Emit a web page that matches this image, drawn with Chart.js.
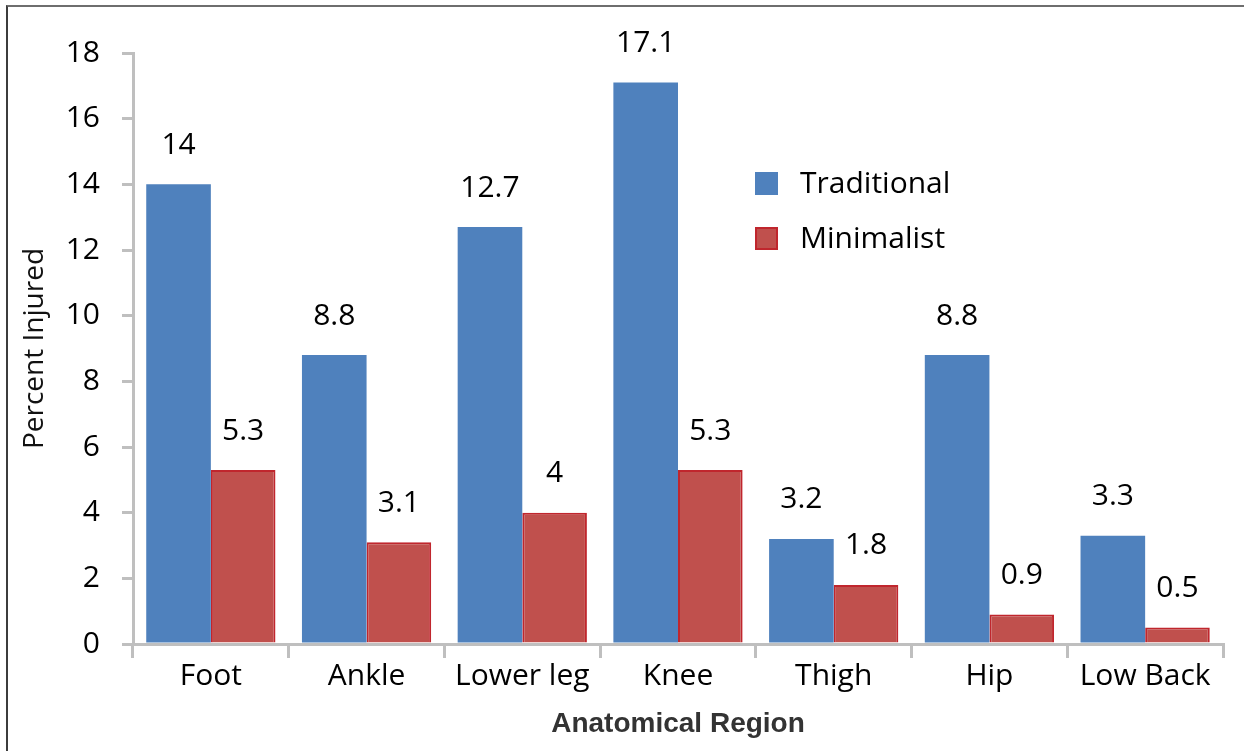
<!DOCTYPE html>
<html>
<head>
<meta charset="utf-8">
<script src="https://cdn.jsdelivr.net/npm/chart.js@4"></script>
<style>
  html, body { margin: 0; padding: 0; background: #fff; }
  #wrap { position: relative; width: 1244px; height: 751px; }
  #frame {
    position: absolute; left: 6px; top: 5px; right: 0; bottom: 0;
    border-top: 2px solid #6e6e6e; border-left: 2px solid #3c3c3c;
  }
  canvas { position: absolute; left: 0; top: 0; }
</style>
</head>
<body>
<div id="wrap">
  <div id="frame"></div>
  <canvas id="chart" width="1244" height="751"></canvas>
</div>
<script>
// data
const regions = ['Foot', 'Ankle', 'Lower leg', 'Knee', 'Thigh', 'Hip', 'Low Back'];
const traditional = [14, 8.8, 12.7, 17.1, 3.2, 8.8, 3.3];
const minimalist = [5.3, 3.1, 4, 5.3, 1.8, 0.9, 0.5];

const BLUE = '#4f81bd';
const RED = '#c0504d';
const RED_EDGE = '#c0262d';
const AXIS = '#bfbfbf';
const FONT = 'Open Sans';
const LABEL_FONT = '30px "Open Sans"';

// value labels above each bar
const valueLabels = {
    id: 'valueLabels',
    afterDatasetsDraw(chart) {
        const ctx = chart.ctx;
        ctx.save();
        ctx.font = LABEL_FONT;
        ctx.fillStyle = '#000';
        ctx.textAlign = 'center';
        ctx.textBaseline = 'middle';
        chart.data.datasets.forEach((ds, i) => {
            chart.getDatasetMeta(i).data.forEach((bar, j) => {
                ctx.fillText(String(ds.data[j]), bar.x, bar.y - 39);
            });
        });
        ctx.restore();
    }
};

// legend sits inside the plot, right of the Knee bar
const innerLegend = {
    id: 'innerLegend',
    afterDraw(chart) {
        const ctx = chart.ctx;
        const x = 755, y0 = 183, gap = 55;
        ctx.save();
        chart.data.datasets.forEach((ds, i) => {
            const y = y0 + i * gap;
            ctx.fillStyle = ds.backgroundColor;
            ctx.fillRect(x, y - 11, 23, 23);
            if (ds.borderWidth) {
                ctx.strokeStyle = ds.borderColor;
                ctx.lineWidth = 2;
                ctx.strokeRect(x + 1, y - 10, 21, 21);
            }
            ctx.fillStyle = '#000';
            ctx.font = LABEL_FONT;
            ctx.textBaseline = 'middle';
            ctx.fillText(ds.label, 800, y + 1);
        });
        ctx.restore();
    }
};

new Chart(document.getElementById('chart'), {
    type: 'bar',
    data: {
        labels: regions,
        datasets: [
            {
                label: 'Traditional',
                data: traditional,
                backgroundColor: BLUE,
                borderWidth: 0,
                categoryPercentage: 0.83,
                barPercentage: 1.0
            },
            {
                label: 'Minimalist',
                data: minimalist,
                backgroundColor: RED,
                borderColor: RED_EDGE,
                borderWidth: 2,
                categoryPercentage: 0.83,
                barPercentage: 1.0
            }
        ]
    },
    options: {
        responsive: false,
        animation: false,
        layout: { padding: { left: 0, top: 53, right: 21, bottom: 0 } },
        plugins: {
            legend: { display: false },
            tooltip: { enabled: false }
        },
        scales: {
            x: {
                grid: { offset: true, drawOnChartArea: false, tickLength: 14, color: AXIS, lineWidth: 3 },
                border: { color: AXIS, width: 3 },
                ticks: { color: '#000', font: { family: FONT, size: 30 }, padding: 0 },
                title: {
                    display: true,
                    text: 'Anatomical Region',
                    color: '#333',
                    font: { family: 'Liberation Sans', size: 28, weight: 'bold' },
                    padding: { top: 0, bottom: 10 }
                },
                afterFit(scale) { scale.height = 107; }
            },
            y: {
                min: 0,
                max: 18,
                ticks: { stepSize: 2, color: '#000', font: { family: FONT, size: 30 }, padding: 22 },
                grid: { drawOnChartArea: false, tickLength: 11, color: AXIS, lineWidth: 3 },
                border: { color: AXIS, width: 3 },
                title: {
                    display: true,
                    text: 'Percent Injured',
                    color: '#111',
                    font: { family: 'Open Sans', size: 28 },
                    padding: { top: 18, bottom: 0 }
                },
                afterFit(scale) { scale.width = 133; }
            }
        }
    },
    plugins: [valueLabels, innerLegend]
});
</script>
</body>
</html>
